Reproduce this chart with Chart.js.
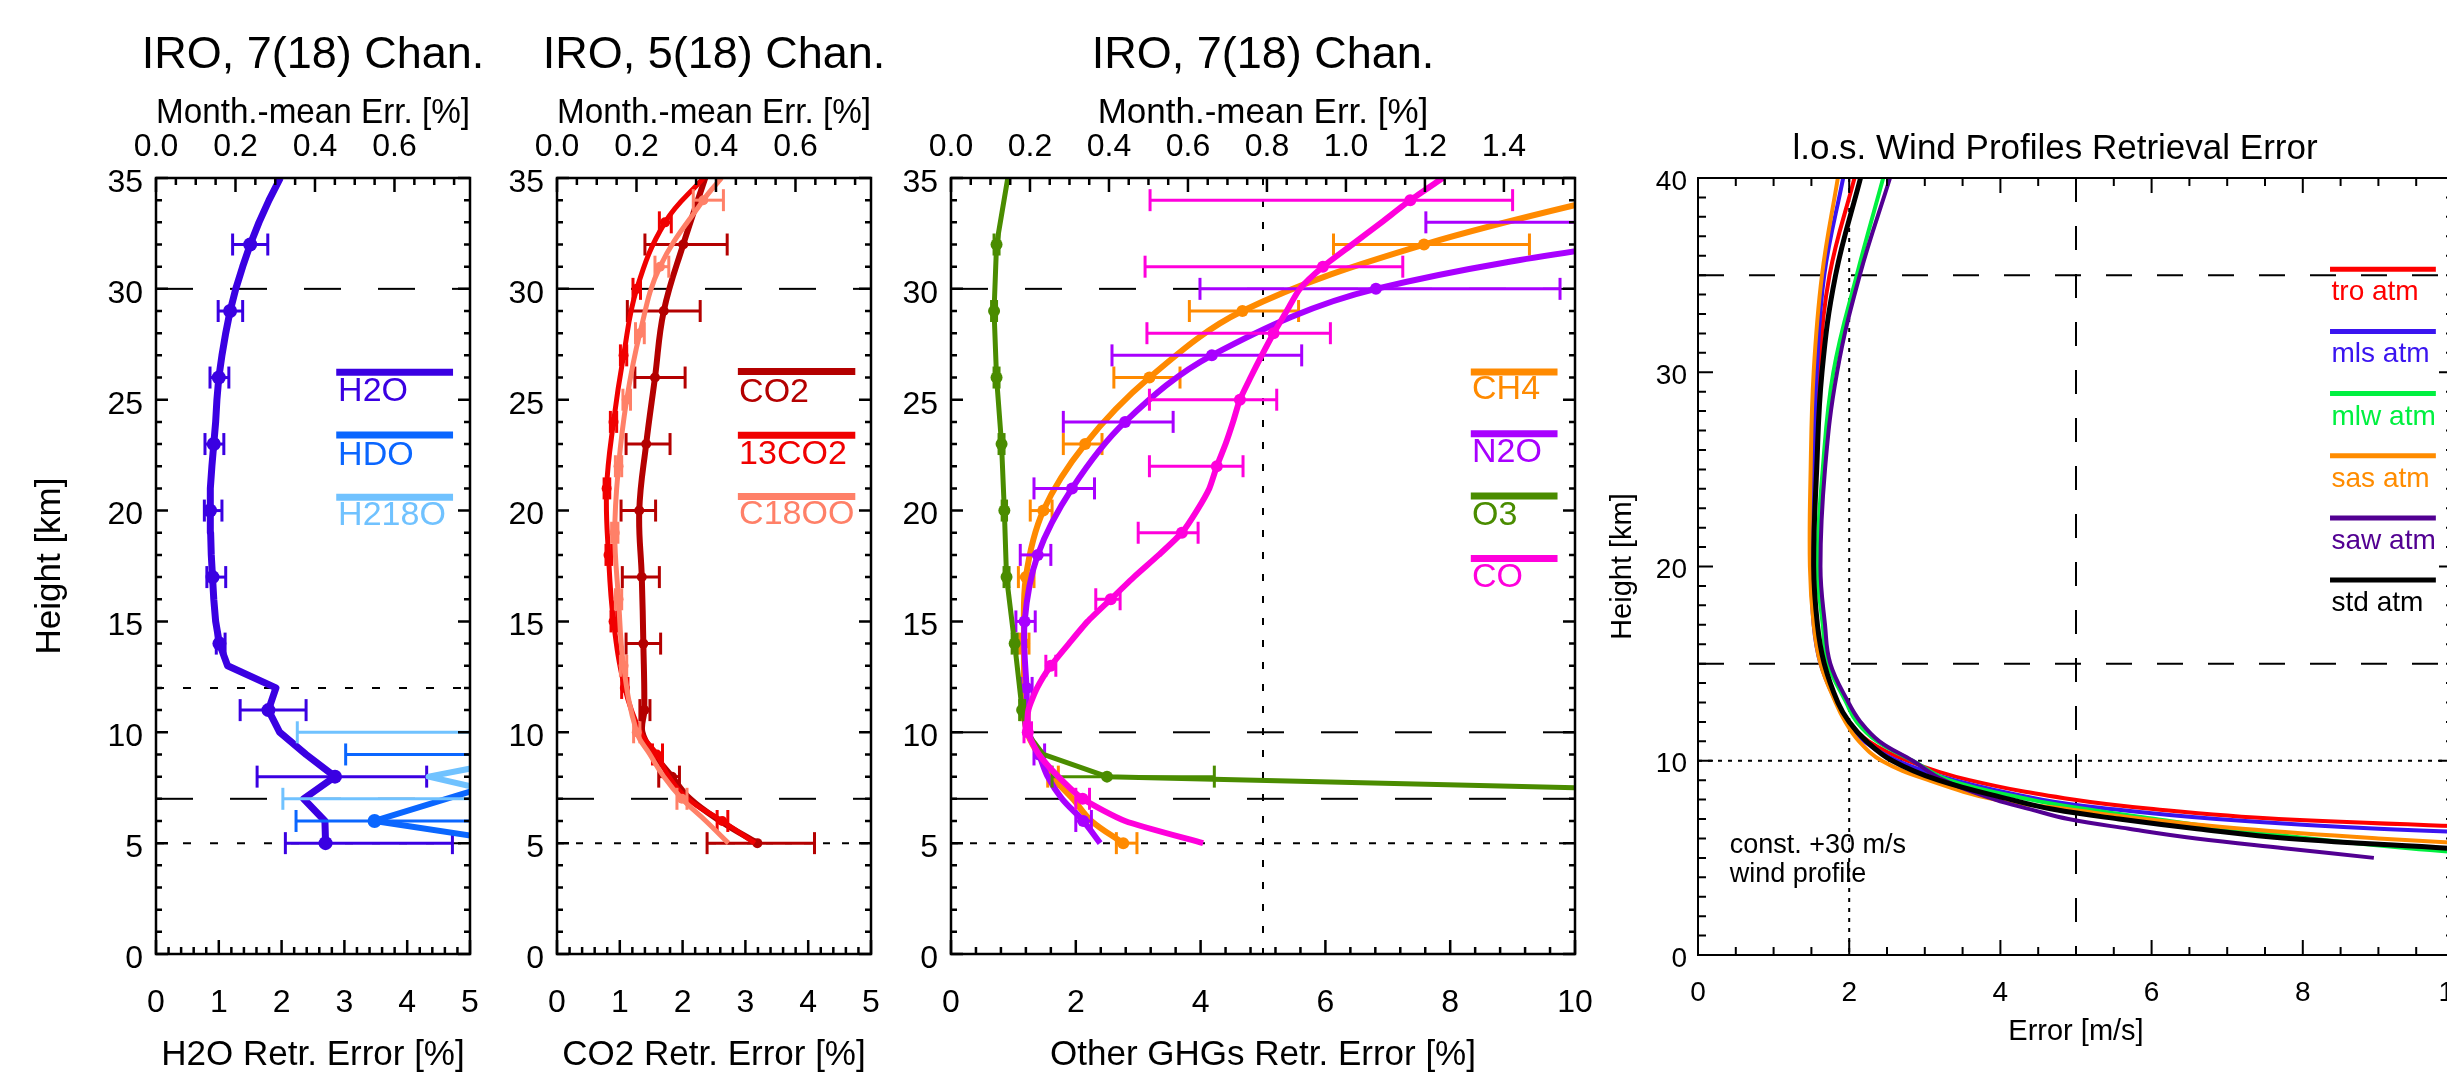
<!DOCTYPE html>
<html><head><meta charset="utf-8">
<script src="https://cdn.jsdelivr.net/npm/chart.js"></script>
<style>
html,body{margin:0;padding:0;background:#fff;overflow:hidden;width:2447px;height:1091px;}
canvas{position:absolute;top:0;}
</style></head><body>
<canvas id="c1" width="626" height="1076" style="left:0px;width:626px;height:1076px"></canvas>
<canvas id="c2" width="626" height="1076" style="left:401px;width:626px;height:1076px"></canvas>
<canvas id="c3" width="936" height="1076" style="left:795px;width:936px;height:1076px"></canvas>
<canvas id="c4" width="934" height="1049" style="left:1588px;width:934px;height:1049px"></canvas>
<script>
// ================= DATA =================
// ---- Panel 1 : water vapour isotopologues (x = error %, y = height km)
const p1Names = ['H2O', 'HDO', 'H218O'];
const h2oH = [5,6,7,8,9,10,11,12,13,14,15,16,17,18,19,20,21,22,23,24,25,26,27,28,29,30,31,32,33,34,35];
const h2oX = [2.70,2.69,2.35,2.85,2.39,1.97,1.79,1.91,1.14,1.01,0.95,0.92,0.90,0.88,0.87,0.86,0.87,0.89,0.92,0.95,0.97,1.00,1.05,1.11,1.18,1.27,1.38,1.50,1.64,1.80,1.98];
const h2oMk = [5,8,11,14,17,20,23,26,29,32];
const h2oLo = [2.06,1.61,1.34,0.96,0.81,0.77,0.78,0.86,0.99,1.22];
const h2oHi = [4.72,4.31,2.39,1.10,1.11,1.05,1.08,1.16,1.38,1.78];
const hdoH = [5,6,8,9];
const hdoX = [5.80,3.48,5.77,8.00];
const hdoMk = [6,9];
const hdoLo = [2.23,3.02];
const hdoHi = [6.00,12.0];
const h218oH = [7,8,9,10];
const h218oX = [5.87,4.34,6.17,8.00];
const h218oMk = [7,10];
const h218oLo = [2.02,2.25];
const h218oHi = [8.00,12.0];

// ---- Panel 2 : CO2 isotopologues
const p2Names = ['CO2', '13CO2', 'C18OO'];
const co2H = [5,6,7,8,9,10,11,14,17,20,23,26,29,32,35];
const co2X = [3.19,2.60,2.12,1.83,1.55,1.36,1.39,1.375,1.35,1.31,1.42,1.56,1.70,2.01,2.36];
const co2Mk = [5,8,11,14,17,20,23,26,29,32];
const co2Lo = [2.39,1.62,1.32,1.10,1.04,1.02,1.10,1.24,1.12,1.40];
const co2Hi = [4.10,1.95,1.48,1.65,1.63,1.57,1.80,2.04,2.28,2.71];
const c13H = [5,6,7,8,9,10,12,15,18,21,24,27,30,33,35];
const c13X = [3.15,2.63,2.08,1.78,1.59,1.33,1.08,0.90,0.82,0.79,0.90,1.06,1.27,1.72,2.33];
const c13Mk = [6,9,12,15,18,21,24,27,30,33];
const c13Lo = [2.55,1.52,1.03,0.86,0.78,0.75,0.85,1.01,1.21,1.63];
const c13Hi = [2.72,1.68,1.13,0.95,0.87,0.84,0.95,1.11,1.33,1.82];
const c18H = [5,6,7,8,9,10,13,16,19,22,25,28,31,34,35];
const c18X = [2.73,2.37,1.99,1.70,1.48,1.27,1.06,0.98,0.92,0.98,1.11,1.32,1.64,2.33,2.62];
const c18Mk = [7,10,13,16,19,22,25,28,31,34];
const c18Lo = [1.91,1.22,1.01,0.93,0.87,0.93,1.05,1.25,1.56,2.17];
const c18Hi = [2.07,1.32,1.11,1.03,0.97,1.03,1.17,1.39,1.78,2.65];

// ---- Panel 3 : other greenhouse gases
const p3Names = ['CH4', 'N2O', 'O3', 'CO'];
const ch4H = [5,6,7,8,9,10,11,14,17,20,23,26,29,32,35];
const ch4X = [2.76,2.25,1.95,1.62,1.40,1.22,1.18,1.17,1.20,1.48,2.15,3.18,4.67,7.58,11.8];
const ch4Mk = [5,8,11,14,17,20,23,26,29,32];
const ch4Lo = [2.65,1.55,1.12,1.10,1.08,1.27,1.80,2.61,3.82,6.13];
const ch4Hi = [2.98,1.72,1.25,1.25,1.33,1.62,2.42,3.67,5.57,9.27];
const n2oH = [5,6,7,8,9,10,12,15,18,21,24,27,30,33];
const n2oX = [2.39,2.12,1.78,1.55,1.41,1.25,1.21,1.18,1.39,1.94,2.79,4.18,6.81,13.0];
const n2oMk = [6,9,12,15,18,21,24,27,30,33];
const n2oLo = [2.00,1.33,1.12,1.04,1.11,1.33,1.80,2.58,3.99,7.61];
const n2oHi = [2.25,1.50,1.30,1.35,1.60,2.30,3.56,5.62,9.76,18.0];
const o3H = [7,8,9,10,11,14,17,20,23,26,29,32,35];
const o3X = [17.5,2.50,1.48,1.21,1.14,1.02,0.89,0.855,0.81,0.73,0.69,0.73,0.91];
const o3Mk = [8,11,14,17,20,23,26,29,32];
const o3Lo = [1.62,1.10,0.98,0.85,0.82,0.77,0.69,0.65,0.69];
const o3Hi = [4.22,1.18,1.06,0.93,0.89,0.85,0.77,0.73,0.77];
const coH = [5,6,7,8,9,10,11,12,13,14,15,16,17,18,19,20,21,22,23,24,25,26,27,28,29,30,31,32,33,34,35];
const coX = [4.04,2.79,2.11,1.72,1.41,1.23,1.24,1.38,1.60,1.89,2.19,2.56,2.93,3.33,3.70,3.94,4.14,4.26,4.40,4.52,4.63,4.80,4.98,5.17,5.38,5.59,5.96,6.43,6.90,7.36,7.88];
const coMk = [7,10,13,16,19,22,25,28,31,34];
const coLo = [2.00,1.17,1.52,2.32,3.00,3.18,3.18,3.14,3.11,3.19];
const coHi = [2.22,1.29,1.68,2.71,3.96,4.68,5.22,6.08,7.24,9.00];

// ---- Panel 4 : l.o.s. wind retrieval error (m/s)
const p4Names = ['tro atm', 'mls atm', 'mlw atm', 'sas atm', 'saw atm', 'std atm'];
const p4H  = [40,35,30,25,20,17,15,13,12,11,10,9,8,7.5,7,6.5,6,5.5,5];
const troX = [2.07,1.74,1.60,1.54,1.52,1.56,1.65,1.85,2.00,2.26,2.77,3.59,4.96,6.05,7.68,11.0,14.0,17.0,20.0];
const mlsX = [1.92,1.67,1.57,1.52,1.50,1.53,1.62,1.83,1.98,2.20,2.64,3.39,4.55,5.50,6.86,9.00,12.5,15.0,18.0];
const mlwX = [2.45,2.10,1.79,1.65,1.58,1.65,1.72,1.96,2.10,2.37,2.84,3.32,4.40,5.15,6.05,7.00,8.09,9.40,11.0];
const sasX = [1.85,1.64,1.53,1.49,1.48,1.53,1.62,1.82,1.95,2.13,2.43,3.05,3.93,4.90,5.90,7.20,9.00,11.2,13.0];
const sawX = [2.54,2.14,1.84,1.68,1.62,1.68,1.75,1.99,2.15,2.40,2.84,3.25,3.93,4.40,4.90,5.70,6.59,7.75,8.94];
const stdX = [2.15,1.82,1.64,1.57,1.53,1.58,1.67,1.85,2.00,2.23,2.57,3.18,4.14,4.70,5.57,6.60,7.82,9.92,12.0];

// ---- Tick labels
const heightTicks35 = [0,5,10,15,20,25,30,35];
const errTicks5 = [0,1,2,3,4,5];
const errTicks10 = [0,2,4,6,8,10];
const meanTicksA = [0.0,0.2,0.4,0.6];
const meanTicksB = [0.0,0.2,0.4,0.6,0.8,1.0,1.2,1.4];
const heightTicks40 = [0,10,20,30,40];
const windTicks = [0,2,4,6,8,10];
const MEAN_RATIO = 0.158;   // monthly-mean error axis relative to single-retrieval axis

// ================= DRAWING =================
const FONT = "'Liberation Sans', Arial, Helvetica, sans-serif";
Chart.defaults.font.family = FONT;
Chart.defaults.color = '#000';

function framePlugin(o) {
  return {
    id: 'frameTicks',
    afterDatasetsDraw(chart) {
      const {ctx, chartArea: a, scales} = chart;
      ctx.save();
      ctx.strokeStyle = '#000';
      ctx.lineWidth = o.lw;
      ctx.lineCap = 'butt';
      ctx.setLineDash([]);
      ctx.beginPath();
      const along = (sc, minor, major, draw) => {
        const k0 = Math.ceil(sc.min / minor - 1e-7), k1 = Math.floor(sc.max / minor + 1e-7);
        for (let k = k0; k <= k1; k++) {
          const v = k * minor, r = v / major;
          draw(sc.getPixelForValue(v), Math.abs(r - Math.round(r)) < 1e-6);
        }
      };
      along(scales.x, o.xMinor, o.xMajor, (p, M) => { const L = M ? o.xMaj : o.xMin; ctx.moveTo(p, a.bottom); ctx.lineTo(p, a.bottom - L); });
      along(scales[o.topScale], o.tMinor, o.tMajor, (p, M) => { const L = M ? o.xMaj : o.xMin; ctx.moveTo(p, a.top); ctx.lineTo(p, a.top + L); });
      along(scales.y, o.yMinor, o.yMajor, (p, M) => { const L = M ? o.yMaj : o.yMin; ctx.moveTo(a.left, p); ctx.lineTo(a.left + L, p); ctx.moveTo(a.right, p); ctx.lineTo(a.right - L, p); });
      ctx.stroke();
      ctx.strokeRect(a.left, a.top, a.right - a.left, a.bottom - a.top);
      ctx.restore();
    }
  };
}
function notesPlugin(items) {
  return {
    id: 'notes',
    afterDatasetsDraw(chart) {
      const {ctx, scales} = chart;
      items.forEach(it => {
        ctx.save();
        ctx.font = it.size + 'px ' + FONT;
        ctx.fillStyle = it.color;
        ctx.textAlign = 'left';
        ctx.textBaseline = 'middle';
        ctx.fillText(it.text, scales.x.getPixelForValue(it.x), scales.y.getPixelForValue(it.y));
        ctx.restore();
      });
    }
  };
}

function buildPanel(c) {
  const ds = [];
  c.refs.forEach(r => {
    const pts = (r.h !== undefined) ? [{x: c.xmin, y: r.h}, {x: c.xmax, y: r.h}] : [{x: r.v, y: c.ymax}, {x: r.v, y: c.ymin}];
    ds.push({data: pts, showLine: true, borderColor: '#000', borderWidth: r.w || 2, borderDash: r.dash, pointRadius: 0, clip: 0, order: 200});
  });
  c.series.forEach((s, i) => {
    const base = 100 - 3 * i;
    ds.push({data: s.h.map((h, k) => ({x: s.x[k], y: h})), showLine: true, borderColor: s.color, borderWidth: s.lw,
             tension: s.tension || 0, pointRadius: 0, clip: 0, order: base + 2, borderJoinStyle: 'round'});
    if (s.mk) {
      s.mk.forEach((h, k) => {
        ds.push({data: [{x: s.lo[k], y: h}, {x: s.hi[k], y: h}], showLine: true, borderColor: s.color, borderWidth: c.ebw,
                 pointStyle: 'line', pointRotation: 90, pointRadius: c.cap, pointBorderWidth: c.ebw, pointBorderColor: s.color,
                 pointBackgroundColor: s.color, clip: 0, order: base + 1});
      });
      ds.push({data: s.mk.map(h => ({x: s.x[s.h.indexOf(h)], y: h})), showLine: false, pointStyle: 'circle', pointRadius: c.mr,
               pointBackgroundColor: s.color, pointBorderColor: s.color, pointBorderWidth: 0, clip: 0, order: base});
    }
  });
  c.series.forEach((s, i) => {
    ds.push({data: [{x: c.leg.x0, y: c.leg.lineH[i]}, {x: c.leg.x1, y: c.leg.lineH[i]}], showLine: true, borderColor: s.color,
             borderWidth: c.leg.lw, pointRadius: 0, clip: 0, order: 10});
  });
  const notes = c.series.map((s, i) => ({x: c.leg.tx, y: c.leg.textH[i], text: s.name, color: s.color, size: c.leg.size})).concat(c.notes || []);

  const tf = {family: FONT, size: c.tickSize};
  const af = {family: FONT, size: c.axSize};
  const scales = {
    x: {type: 'linear', position: 'bottom', min: c.xmin, max: c.xmax,
        afterBuildTicks: sc => { sc.ticks = c.xTicks.map(v => ({value: v})); },
        ticks: {font: tf, color: '#000', padding: c.xPad, autoSkip: false, maxRotation: 0, minRotation: 0, includeBounds: false, callback: v => String(v)},
        grid: {display: false, drawTicks: false}, border: {display: false},
        title: {display: true, text: c.xTitle, font: af, color: '#000', padding: {top: 0, bottom: 0}},
        afterFit: sc => { sc.height = c.xH; }},
    y: {type: 'linear', position: 'left', min: c.ymin, max: c.ymax,
        afterBuildTicks: sc => { sc.ticks = c.yTicks.map(v => ({value: v})); },
        ticks: {font: tf, color: '#000', padding: c.yPad, labelOffset: c.yLabOff, autoSkip: false, includeBounds: false, callback: v => String(v)},
        grid: {display: false, drawTicks: false}, border: {display: false},
        title: {display: !!c.yTitle, text: c.yTitle || '', font: af, color: '#000', padding: {top: c.yTitlePad || 0, bottom: 0}},
        afterFit: sc => { sc.width = c.yW; }},
    yr: {type: 'linear', position: 'right', min: 0, max: 1,
        ticks: {display: false}, grid: {display: false, drawTicks: false}, border: {display: false},
        afterFit: sc => { sc.width = c.rightPad; }}
  };
  if (c.topTicks) {
    scales.x2 = {type: 'linear', position: 'top', min: 0, max: c.xmax * MEAN_RATIO,
        afterBuildTicks: sc => { sc.ticks = c.topTicks.map(v => ({value: v})); },
        ticks: {font: tf, color: '#000', padding: c.topPad, autoSkip: false, maxRotation: 0, minRotation: 0, includeBounds: false, callback: v => v.toFixed(1)},
        grid: {display: false, drawTicks: false}, border: {display: false},
        title: {display: true, text: 'Month.-mean Err. [%]', font: af, color: '#000', padding: {top: 0, bottom: 0}},
        afterFit: sc => { sc.height = c.topH; }};
  }
  new Chart(document.getElementById(c.id), {
    type: 'scatter',
    data: {datasets: ds},
    options: {
      responsive: false, maintainAspectRatio: false, animation: false, events: [],
      devicePixelRatio: 1,
      layout: {padding: 0, autoPadding: false},
      plugins: {
        legend: {display: false}, tooltip: {enabled: false},
        title: {display: true, text: c.title, color: '#000', font: {family: FONT, size: c.titleSize, weight: 'normal'},
                padding: {top: c.titlePadTop, bottom: c.titlePadBot}}
      },
      scales
    },
    plugins: [framePlugin(c.frame), notesPlugin(notes)]
  });
}

const LONG = [37, 37];
const frameA = {lw: 2.5, xMinor: 0.2, xMajor: 1, topScale: 'x2', tMinor: 0.05, tMajor: 0.2, yMinor: 1, yMajor: 5, xMaj: 14, xMin: 7, yMaj: 12, yMin: 6};
const legA = {x0: 2.87, x1: 4.73, tx: 2.9, lineH: [26.24, 23.41, 20.6], textH: [25.35, 22.5, 19.76], lw: 7, size: 34};
const commonA = {xmin: 0, ymin: 0, ymax: 35, yTicks: heightTicks35, tickSize: 32, axSize: 35, titleSize: 45,
  titlePadTop: 29, titlePadBot: 9, topH: 86, xH: 122, yW: 156, rightPad: 156, xPad: 30, topPad: 12, yPad: 13, yLabOff: 5, ebw: 3, cap: 11};

buildPanel(Object.assign({}, commonA, {
  id: 'c1', xmax: 5, xTicks: errTicks5, topTicks: meanTicksA, title: 'IRO, 7(18) Chan.',
  xTitle: 'H2O Retr. Error [%]', yTitle: 'Height [km]', yTitlePad: 29, mr: 7, frame: frameA, leg: legA,
  refs: [{h: 30, dash: LONG}, {h: 12, dash: [8, 19]}, {h: 7, dash: LONG}, {h: 5, dash: [8, 19]}],
  series: [
    {name: p1Names[0], color: '#3a00e2', lw: 7, h: h2oH, x: h2oX, mk: h2oMk, lo: h2oLo, hi: h2oHi},
    {name: p1Names[1], color: '#0a66ff', lw: 6, h: hdoH, x: hdoX, mk: hdoMk, lo: hdoLo, hi: hdoHi},
    {name: p1Names[2], color: '#70c2ff', lw: 6, h: h218oH, x: h218oX, mk: h218oMk, lo: h218oLo, hi: h218oHi}
  ]
}));

buildPanel(Object.assign({}, commonA, {
  id: 'c2', xmax: 5, xTicks: errTicks5, topTicks: meanTicksA, title: 'IRO, 5(18) Chan.',
  xTitle: 'CO2 Retr. Error [%]', mr: 5, frame: frameA,
  leg: Object.assign({}, legA, {x0: 2.88, x1: 4.75, textH: [25.34, 22.52, 19.83], lineH: [26.27, 23.4, 20.63]}),
  refs: [{h: 30, dash: LONG}, {h: 7, dash: LONG}, {h: 5, dash: [7, 12]}],
  series: [
    {name: p2Names[0], color: '#b40000', lw: 6, tension: 0.4, h: co2H, x: co2X, mk: co2Mk, lo: co2Lo, hi: co2Hi},
    {name: p2Names[1], color: '#f00000', lw: 5, tension: 0.4, h: c13H, x: c13X, mk: c13Mk, lo: c13Lo, hi: c13Hi},
    {name: p2Names[2], color: '#ff8068', lw: 5, tension: 0.4, h: c18H, x: c18X, mk: c18Mk, lo: c18Lo, hi: c18Hi}
  ]
}));

buildPanel(Object.assign({}, commonA, {
  id: 'c3', xmax: 10, xTicks: errTicks10, topTicks: meanTicksB, title: 'IRO, 7(18) Chan.',
  xTitle: 'Other GHGs Retr. Error [%]', mr: 6,
  frame: Object.assign({}, frameA, {xMinor: 0.4, xMajor: 2}),
  leg: {x0: 8.33, x1: 9.72, tx: 8.35, lineH: [26.25, 23.46, 20.66, 17.84], textH: [25.46, 22.6, 19.76, 16.99], lw: 7, size: 34},
  refs: [{h: 30, dash: LONG}, {h: 10, dash: LONG}, {h: 7, dash: LONG}, {h: 5, dash: [7, 12]}, {v: 5, dash: [7, 15]}],
  series: [
    {name: p3Names[0], color: '#ff8a00', lw: 6, tension: 0.35, h: ch4H, x: ch4X, mk: ch4Mk, lo: ch4Lo, hi: ch4Hi},
    {name: p3Names[1], color: '#a800ff', lw: 6, tension: 0.35, h: n2oH, x: n2oX, mk: n2oMk, lo: n2oLo, hi: n2oHi},
    {name: p3Names[2], color: '#4a8c00', lw: 5, tension: 0, h: o3H, x: o3X, mk: o3Mk, lo: o3Lo, hi: o3Hi},
    {name: p3Names[3], color: '#ff00dc', lw: 6, tension: 0.2, h: coH, x: coX, mk: coMk, lo: coLo, hi: coHi}
  ]
}));

buildPanel({
  id: 'c4', xmin: 0, xmax: 10, ymin: 0, ymax: 40, xTicks: windTicks, yTicks: heightTicks40,
  tickSize: 28, axSize: 29, titleSize: 35, titlePadTop: 128, titlePadBot: 8, xH: 94, yW: 110, rightPad: 68,
  xPad: 21.2, yPad: 11, yLabOff: 4, yTitle: 'Height [km]', yTitlePad: 17.6, title: 'l.o.s. Wind Profiles Retrieval Error',
  xTitle: 'Error [m/s]', ebw: 3, cap: 0, mr: 0,
  frame: {lw: 2, xMinor: 0.5, xMajor: 2, topScale: 'x', tMinor: 0.5, tMajor: 2, yMinor: 1, yMajor: 10, xMaj: 15, xMin: 8, yMaj: 15, yMin: 8},
  leg: {x0: 8.36, x1: 9.76, tx: 8.38, lineH: [35.3, 32.1, 28.9, 25.7, 22.5, 19.3], textH: [34.1, 30.9, 27.7, 24.5, 21.3, 18.1], lw: 5, size: 28},
  notes: [{x: 0.42, y: 5.66, text: 'const. +30 m/s', color: '#000', size: 27}, {x: 0.42, y: 4.12, text: 'wind profile', color: '#000', size: 27}],
  refs: [{h: 35, dash: [26, 25]}, {h: 15, dash: [26, 25]}, {h: 10, dash: [4, 6]}, {v: 5, dash: [24, 24]}, {v: 2, dash: [4, 6]}],
  series: [
    {name: p4Names[0], color: '#ff0000', lw: 4, tension: 0.4, h: p4H, x: troX},
    {name: p4Names[1], color: '#3a14f0', lw: 4, tension: 0.4, h: p4H, x: mlsX},
    {name: p4Names[2], color: '#00f040', lw: 4, tension: 0.4, h: p4H, x: mlwX},
    {name: p4Names[3], color: '#ff8c00', lw: 4, tension: 0.4, h: p4H, x: sasX},
    {name: p4Names[4], color: '#520092', lw: 4, tension: 0.4, h: p4H, x: sawX},
    {name: p4Names[5], color: '#000000', lw: 5, tension: 0.4, h: p4H, x: stdX}
  ]
});
</script>
</body></html>
